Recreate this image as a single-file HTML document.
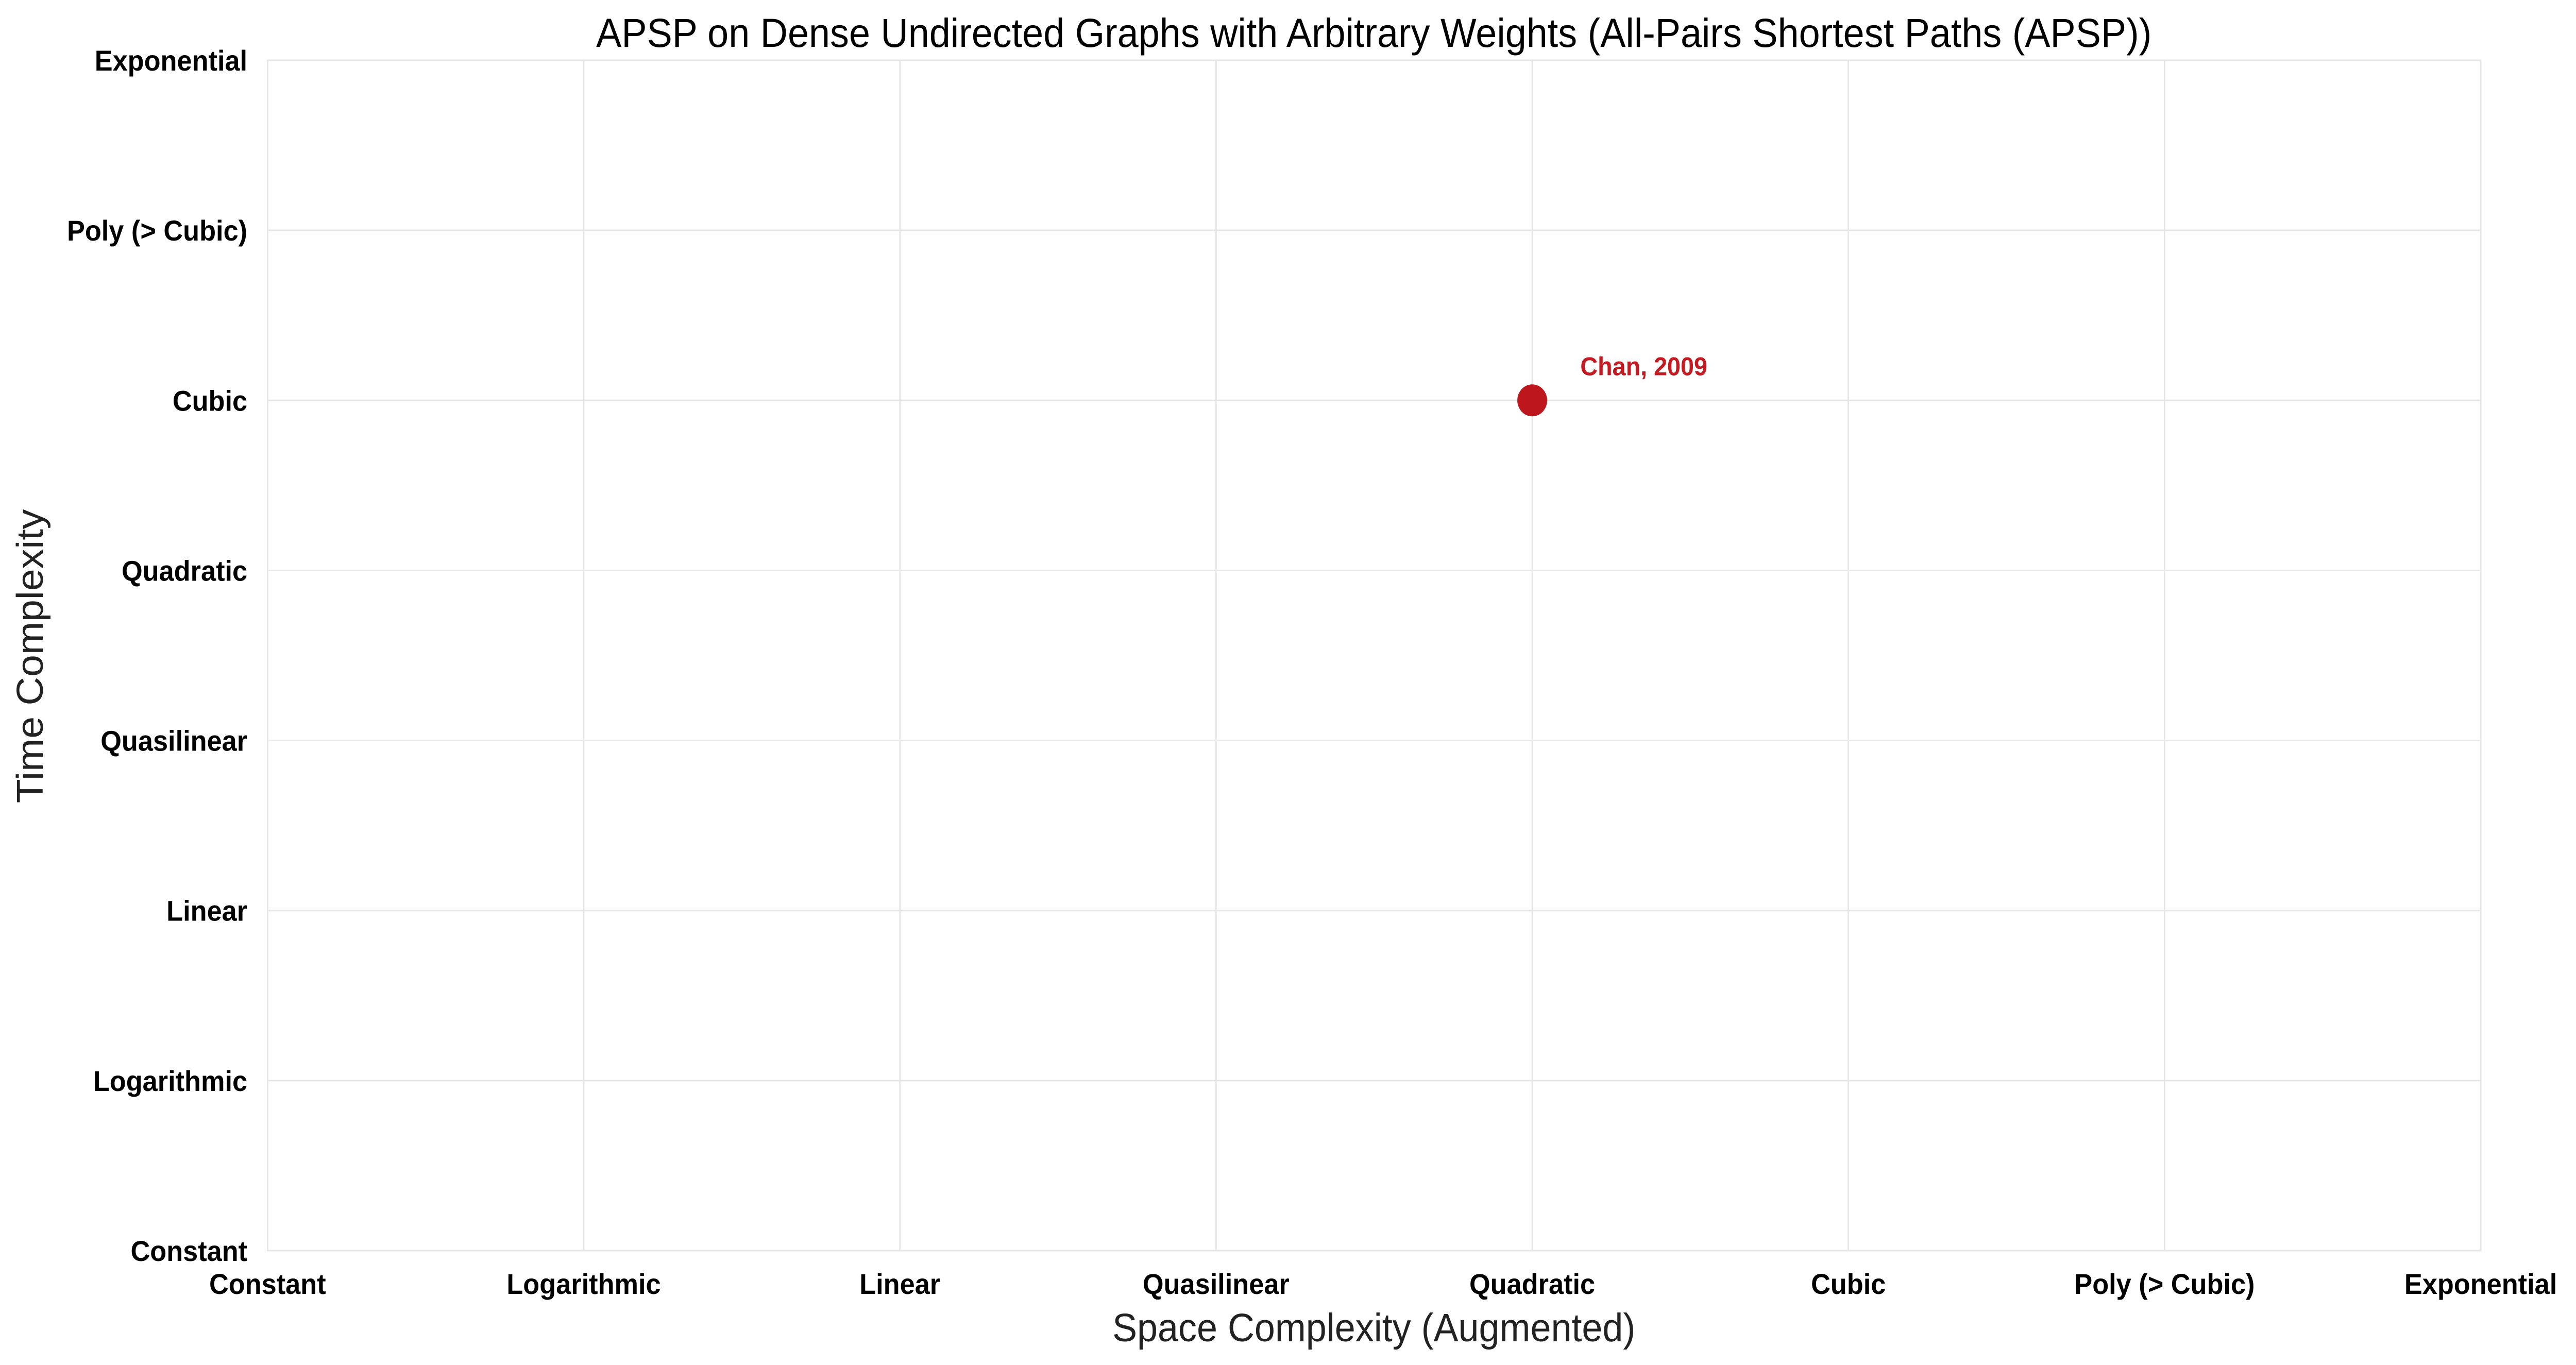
<!DOCTYPE html>
<html><head><meta charset="utf-8"><style>
html,body{margin:0;padding:0;background:#fff;overflow:hidden;width:100%;height:100%;}
svg{display:block;width:100vw;height:100vh;font-family:"Liberation Sans",Arial,sans-serif;}
</style></head><body>
<svg id="chart" viewBox="0 0 5353 2650" preserveAspectRatio="none" xmlns="http://www.w3.org/2000/svg">
<rect x="0" y="0" width="5353" height="2650" fill="#fff"/>
<text x="2855" y="91" font-size="79" text-anchor="middle" fill="#000">APSP on Dense Undirected Graphs with Arbitrary Weights (All-Pairs Shortest Paths (APSP))</text>
<g id="grid"></g>
<g id="ticks"></g>
<g id="marks"></g>
<text x="2855" y="2604" font-size="77" text-anchor="middle" fill="#222">Space Complexity (Augmented)</text>
<text transform="translate(89,1274) rotate(-90)" font-size="77" text-anchor="middle" fill="#222">Time Complexity</text>
</svg>
<script>
const xCategories = ["Constant","Logarithmic","Linear","Quasilinear","Quadratic","Cubic","Poly (> Cubic)","Exponential"];
const yCategories = ["Constant","Logarithmic","Linear","Quasilinear","Quadratic","Cubic","Poly (> Cubic)","Exponential"];
const pointLabels = ["Chan, 2009"];
const pointX = [4];
const pointY = [5];

const NS = "http://www.w3.org/2000/svg";
const L = 556, R = 5155, T = 117, B = 2428;
const xs = i => L + i * (R - L) / (xCategories.length - 1);
const ys = i => B - i * (B - T) / (yCategories.length - 1);
function mk(tag, attrs, parent, text) {
  const e = document.createElementNS(NS, tag);
  for (const k in attrs) e.setAttribute(k, attrs[k]);
  if (text !== undefined) e.textContent = text;
  parent.appendChild(e);
  return e;
}
const grid = document.getElementById('grid');
const ticks = document.getElementById('ticks');
const marks = document.getElementById('marks');
const border = mk('rect', {x: L, y: T, width: R - L, height: B - T, fill: 'none', stroke: '#e6e6e6', 'stroke-width': 3}, grid);


xCategories.forEach((c, i) => {
  const ln = mk('line', {x1: xs(i), x2: xs(i), y1: T, y2: B, stroke: '#e6e6e6', 'stroke-width': 3}, grid);
  
  
  const t = mk('text', {x: xs(i), y: 2512, 'font-size': 56, 'font-weight': 'bold', 'text-anchor': 'middle', fill: '#000'}, ticks, c);
  
  
});
yCategories.forEach((c, i) => {
  const ln = mk('line', {x1: L, x2: R, y1: ys(i), y2: ys(i), stroke: '#e6e6e6', 'stroke-width': 3}, grid);
  
  
  const t = mk('text', {x: 514, y: ys(i) + 20, 'font-size': 56, 'font-weight': 'bold', 'text-anchor': 'end', fill: '#000'}, ticks, c);
  
  
});
pointX.forEach((v, i) => {
  const cx = xs(v), cy = ys(pointY[i]);
  const c = mk('circle', {cx: cx, cy: cy, r: 31, fill: '#bd161d'}, marks);
  
  
  const t = mk('text', {x: cx + 100, y: cy - 49, 'font-size': 50, 'font-weight': 'bold', fill: '#c41a22'}, marks, pointLabels[i]);
  
  
});
</script>
</body></html>
